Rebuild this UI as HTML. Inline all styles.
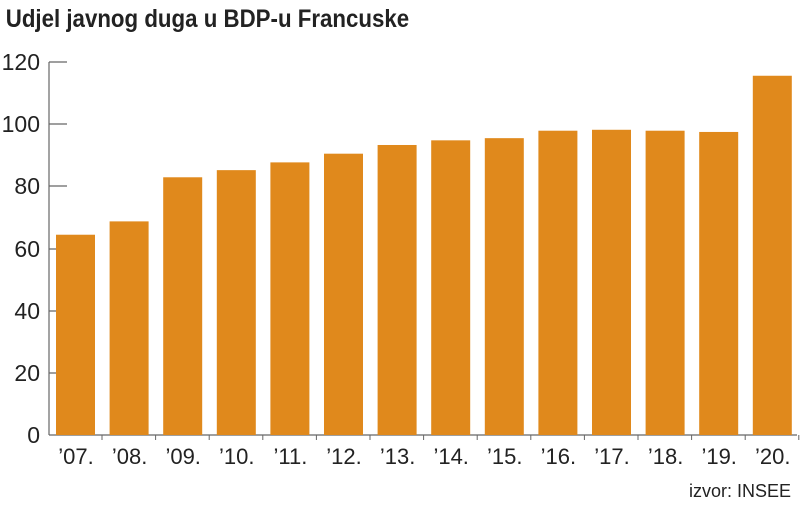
<!DOCTYPE html>
<html><head><meta charset="utf-8"><style>
body{margin:0;background:#fff;}
</style></head><body>
<svg width="800" height="503" xmlns="http://www.w3.org/2000/svg" font-family="Liberation Sans, sans-serif">
<rect width="800" height="503" fill="#fff"/>
<text x="7" y="27" font-size="25" font-weight="bold" fill="#222" transform="scale(0.82,1)" textLength="492" lengthAdjust="spacingAndGlyphs">Udjel javnog duga u BDP-u Francuske</text>
<g stroke="#666" stroke-width="1.2">
<line x1="49" y1="62" x2="49" y2="435"/>
<line x1="49" y1="435" x2="797" y2="435"/>
<line x1="49" y1="62" x2="67" y2="62"/>
<line x1="49" y1="124" x2="67" y2="124"/>
<line x1="49" y1="186" x2="67" y2="186"/>
<line x1="49" y1="249" x2="67" y2="249"/>
<line x1="49" y1="311" x2="67" y2="311"/>
<line x1="49" y1="373" x2="67" y2="373"/>
</g>
<g font-size="23" fill="#222" text-anchor="end">
<text x="40" y="70">120</text><text x="40" y="132">100</text><text x="40" y="194">80</text>
<text x="40" y="257">60</text><text x="40" y="319">40</text><text x="40" y="381">20</text><text x="40" y="443">0</text>
</g>
<g id="bars" fill="#e0891c"></g>
<g id="ticks" stroke="#666" stroke-width="1"></g>
<g id="labels" font-size="22" fill="#222" text-anchor="middle"></g>
<text x="791" y="497" font-size="18" fill="#222" text-anchor="end">izvor: INSEE</text>
<script>
var v=[64.5,68.8,83,85.3,87.8,90.6,93.4,94.9,95.6,98,98.3,98,97.6,115.7];
var yrs=["07","08","09","10","11","12","13","14","15","16","17","18","19","20"];
var b=document.getElementById("bars"),t=document.getElementById("ticks"),l=document.getElementById("labels"),ns="http://www.w3.org/2000/svg";
for(var i=0;i<14;i++){var x=56+i*53.6,h=v[i]*3.105;
var r=document.createElementNS(ns,"rect");r.setAttribute("x",x);r.setAttribute("y",435-h);r.setAttribute("width",39);r.setAttribute("height",h);b.appendChild(r);
var ln=document.createElementNS(ns,"line");ln.setAttribute("x1",x+46);ln.setAttribute("x2",x+46);ln.setAttribute("y1",435);ln.setAttribute("y2",440);t.appendChild(ln);
var tx=document.createElementNS(ns,"text");tx.setAttribute("x",x+20);tx.setAttribute("y",464);tx.textContent="\u2019"+yrs[i]+".";l.appendChild(tx);}
</script>
</svg>
</body></html>
